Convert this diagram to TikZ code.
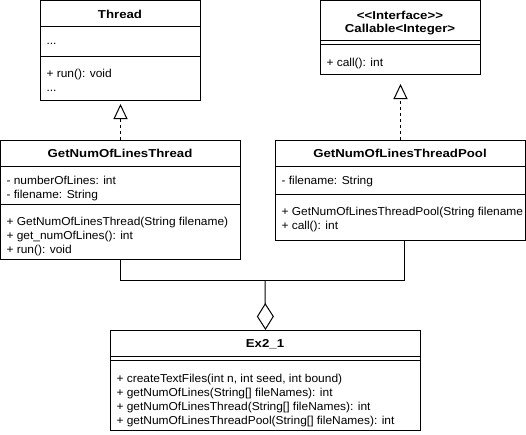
\documentclass[tikz,border=0pt]{standalone}
\usepackage{fontspec}
\setmainfont[FakeStretch=1.04]{Liberation Sans}
\newfontfamily\umltitlefont[FakeStretch=1.15]{Liberation Sans}
\usetikzlibrary{arrows.meta}
\newcommand{\umlsize}{\fontsize{11.5}{14}\selectfont}

\begin{document}
\begin{tikzpicture}[x=1pt,y=-1pt,line width=1pt,
  classbox/.style={draw,anchor=north west,inner sep=0pt},
  ctitle/.style={font=\umltitlefont\umlsize\bfseries,inner sep=0pt,anchor=base},
  member/.style={font=\umlsize,inner sep=0pt,anchor=base west},
  realizes/.style={dash pattern=on 3pt off 3pt,-{Triangle[open,length=15pt,width=14pt]}},
  aggregates/.style={-{Diamond[open,length=27pt,width=17pt]}}]
\useasboundingbox (0,0) rectangle (526,434);

% Thread
\node[classbox,minimum width=160pt,minimum height=100pt] (thread) at (40,0) {};
\draw (thread.north west) ++(0,26) -- ++(160,0);
\draw (thread.north west) ++(0,56) -- ++(160,0);
\node[ctitle] (threadT) at (120,18) {Thread};
\node[member] (threadA) at (46,44) {...};
\node[member] (threadM1) at (46,77) {+ run(): void};
\node[member] (threadM2) at (46,91) {...};

% Callable interface
\node[classbox,minimum width=160pt,minimum height=74pt] (iface) at (320,0) {};
\draw (iface.north west) ++(0,40) -- ++(160,0);
\draw (iface.north west) ++(0,44) -- ++(160,0);
\node[ctitle] (ifaceS) at (400,19) {{<}{<}Interface{>}{>}};
\node[ctitle] (ifaceT) at (400,32) {Callable{<}Integer{>}};
\node[member] (ifaceM1) at (326,66) {+ call(): int};

% GetNumOfLinesThread
\node[classbox,minimum width=240pt,minimum height=119pt] (gnlt) at (0,140) {};
\draw (gnlt.north west) ++(0,26) -- ++(240,0);
\draw (gnlt.north west) ++(0,64) -- ++(240,0);
\node[ctitle] (gnltT) at (120,157) {GetNumOfLinesThread};
\node[member] (gnltA1) at (6,184) {- numberOfLines: int};
\node[member] (gnltA2) at (6,198) {- filename: String};
\node[member] (gnltM1) at (6,225) {+ GetNumOfLinesThread(String filename)};
\node[member] (gnltM2) at (6,239) {+ get\_numOfLines(): int};
\node[member] (gnltM3) at (6,253) {+ run(): void};

% GetNumOfLinesThreadPool
\node[classbox,minimum width=250pt,minimum height=100pt] (pool) at (275,140) {};
\draw (pool.north west) ++(0,26) -- ++(250,0);
\draw (pool.north west) ++(0,54) -- ++(250,0);
\node[ctitle] (poolT) at (400,157) {GetNumOfLinesThreadPool};
\node[member] (poolA1) at (281,184) {- filename: String};
\begin{scope}
\clip (pool.north west) rectangle (pool.south east);
\node[member] (poolM1) at (281,215) {+ GetNumOfLinesThreadPool(String filename};
\end{scope}
\node[member] (poolM2) at (281,229) {+ call(): int};

% Ex2_1
\node[classbox,minimum width=310pt,minimum height=100pt] (ex) at (110,330) {};
\draw (ex.north west) ++(0,26) -- ++(310,0);
\draw (ex.north west) ++(0,30) -- ++(310,0);
\node[ctitle] (exT) at (265,347) {Ex2\_1};
\node[member] (exM1) at (116,382) {+ createTextFiles(int n, int seed, int bound)};
\node[member] (exM2) at (116,396) {+ getNumOfLines(String[] fileNames): int};
\node[member] (exM3) at (116,410) {+ getNumOfLinesThread(String[] fileNames): int};
\node[member] (exM4) at (116,424) {+ getNumOfLinesThreadPool(String[] fileNames): int};

% connectors
\coordinate (poolOut) at ([xshift=4pt]pool.south);
\coordinate (jn) at (265,280);
\draw[realizes,shorten >=3pt] (gnlt.north) -- (thread.south);
\draw[realizes,shorten >=9pt] (pool.north) -- (iface.south);
\draw (gnlt.south) |- (jn);
\draw (poolOut) |- (jn);
\draw[aggregates] (jn) -- (ex.north);
\end{tikzpicture}
\end{document}
